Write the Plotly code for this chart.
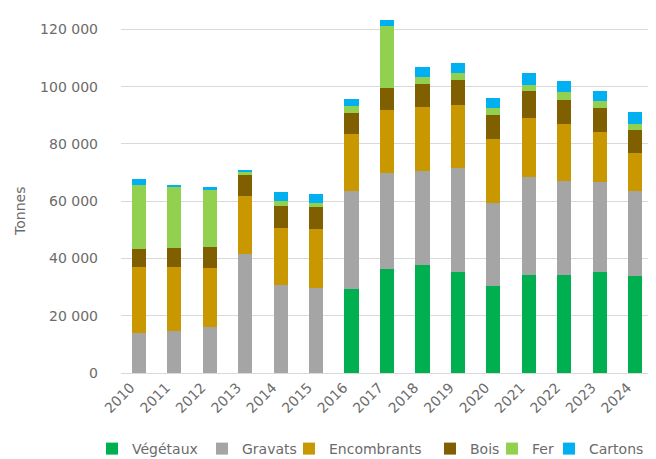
import plotly.graph_objects as go

years = [str(y) for y in range(2010, 2025)]
vegetaux = [0, 0, 0, 0, 0, 0, 29300, 36300, 37800, 35100, 30500, 34100, 34300, 35100, 33700]
gravats = [14000, 14700, 16000, 41500, 30700, 29700, 34300, 33700, 32600, 36400, 28800, 34200, 32600, 31600, 29700]
encombrants = [23000, 22300, 20600, 20300, 19900, 20700, 19800, 21900, 22400, 22100, 22400, 20900, 20200, 17600, 13400]
bois = [6300, 6600, 7400, 7300, 7700, 7400, 7300, 7600, 8100, 8800, 8400, 9400, 8300, 8400, 8200]
fer = [22300, 21600, 20200, 1400, 1700, 1500, 2700, 21500, 2400, 2300, 2600, 2000, 2600, 2100, 2000]
cartons = [2100, 500, 600, 200, 3100, 3300, 2300, 2300, 3400, 3500, 3300, 4100, 3800, 3700, 4000]
y_ticks = [0, 20000, 40000, 60000, 80000, 100000, 120000]

series = [
    ("Végétaux", vegetaux, "#00B050"),
    ("Gravats", gravats, "#A5A5A5"),
    ("Encombrants", encombrants, "#C99700"),
    ("Bois", bois, "#7F5F00"),
    ("Fer", fer, "#92D050"),
    ("Cartons", cartons, "#00B0F0"),
]
# legend symbol x-positions (px) for each entry, one legend per trace
legend_px = [112, 222, 309, 450, 512, 569]

font = "DejaVu Sans"
txt = "#6b6b6b"
W, H = 656, 459

fig = go.Figure()
layout_legends = {}
for i, (name, vals, col) in enumerate(series):
    key = "legend" if i == 0 else f"legend{i + 1}"
    fig.add_trace(go.Bar(x=years, y=vals, name=name, legend=key, showlegend=True,
                         marker=dict(color=col, line=dict(width=0))))
    layout_legends[key] = dict(
        orientation="h", xref="container", yref="paper",
        x=(legend_px[i] - 28) / W, xanchor="left",
        y=-(441 - 365) / 358, yanchor="middle",
        font=dict(size=14, color=txt, family=font),
        bgcolor="rgba(0,0,0,0)", itemwidth=30, visible=True,
    )

fig.update_layout(
    showlegend=True,
    barmode="stack",
    bargap=0.6,
    width=W, height=H,
    margin=dict(l=113, r=11, t=7, b=94, autoexpand=False),
    plot_bgcolor="white", paper_bgcolor="white",
    separators=", ",
    font=dict(family=font, color=txt, size=14),
    xaxis=dict(tickangle=-45, showgrid=False, showline=True, linecolor="#D9D9D9",
               ticks="", automargin=False, ticklabelshift=-8,
               tickfont=dict(size=14, color=txt)),
    yaxis=dict(range=[0, 125000], tickvals=y_ticks,
               tickformat=",d", showgrid=True, gridcolor="#D9D9D9", gridwidth=1,
               zeroline=False, ticks="", ticklabelstandoff=22, automargin=False,
               tickfont=dict(size=14, color=txt)),
    annotations=[dict(text="Tonnes", xref="paper", yref="paper", x=-0.19, y=0.4525,
                      textangle=-90, showarrow=False, xanchor="center", yanchor="middle",
                      font=dict(size=14, color=txt))],
    **layout_legends,
)
fig.write_html("out.html")
